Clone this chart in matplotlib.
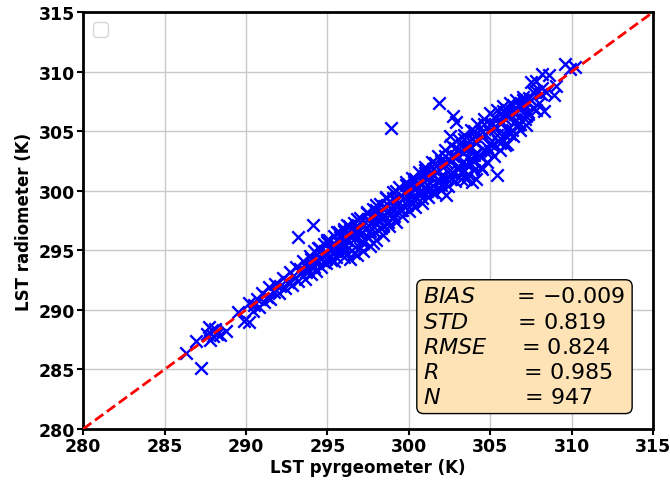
import matplotlib
matplotlib.use("Agg")
import matplotlib.pyplot as plt
import numpy as np

# Axis ranges and ticks
axis_lims = [280, 315]
ticks = [280, 285, 290, 295, 300, 305, 310, 315]

# Cool end of the record (sparse, below 291 K)
low_x = [286.3, 286.96, 287.26, 287.6, 287.8, 287.9, 288.0, 288.1, 288.2, 287.7,
         288.4, 288.8, 289.5, 289.9, 290.2]
low_y = [286.4, 287.4, 285.1, 288.0, 287.5, 288.3, 287.8, 288.4, 288.0, 288.6,
         287.9, 288.25, 289.8, 289.1, 289.0]

# Main band of matched observations
band_x = [290.2, 290.4, 290.5, 290.7, 290.8, 291.0, 291.1, 291.3, 291.4, 291.5,
          291.7, 291.8, 292.0, 292.1, 292.3, 292.4, 292.6, 292.7, 292.8, 293.0,
          293.1, 293.2, 293.4, 293.5, 293.6, 293.8, 293.9, 294.0, 294.1, 294.2,
          294.3, 294.4, 294.5, 294.6, 294.7, 294.8, 294.9, 295.0, 295.1, 295.2,
          295.3, 295.4, 295.5, 295.6, 295.7, 295.8, 295.9, 296.0, 296.1, 296.2,
          296.3, 296.4, 296.5, 296.6, 296.7, 296.8, 296.9, 297.0, 297.1, 297.2,
          297.3, 297.4, 297.5, 297.6, 297.7, 297.8, 297.9, 298.0, 298.1, 298.2,
          298.3, 298.4, 298.5, 298.6, 298.7, 298.8, 298.9, 299.0, 299.1, 299.2,
          299.3, 299.4, 299.5, 299.6, 299.7, 299.8, 299.9, 300.0, 300.1, 300.2,
          300.3, 300.4, 300.5, 300.6, 300.7, 300.8, 300.9, 301.0, 301.1, 301.2,
          301.3, 301.4, 301.5, 301.6, 301.7, 301.8, 301.9, 302.0, 302.1, 302.2,
          302.3, 302.4, 302.5, 302.6, 302.7, 302.8, 302.9, 303.0, 303.1, 303.2,
          303.3, 303.4, 303.5, 303.6, 303.7, 303.8, 303.9, 304.0, 304.1, 304.2,
          304.3, 304.4, 304.5, 304.6, 304.7, 304.8, 304.9, 305.0, 305.1, 305.2,
          305.3, 305.4, 305.5, 305.6, 305.7, 305.8, 305.9, 306.0, 306.1, 306.2,
          306.3, 306.4, 306.5, 306.6, 306.7, 306.8, 306.9, 307.0, 307.1, 307.3,
          307.4, 307.6, 307.8, 308.0, 308.2]
band_y = [290.6, 289.9, 290.4, 290.9, 290.2, 291.4, 290.7, 291.1, 291.9, 290.9,
          291.5, 292.2, 291.4, 292.0, 292.7, 291.8, 292.3, 293.2, 292.1, 292.7,
          293.6, 292.4, 293.1, 294.1, 292.6, 293.4, 294.5, 293.0, 293.8, 294.9,
          293.3, 294.1, 295.2, 293.6, 294.5, 295.5, 293.9, 294.8, 295.9, 294.2,
          295.1, 296.2, 294.4, 295.4, 296.5, 294.8, 295.6, 296.8, 294.9, 295.9,
          297.0, 294.3, 296.2, 297.3, 295.3, 294.6, 296.5, 297.7, 295.8, 294.9,
          296.8, 298.1, 296.1, 295.4, 297.2, 298.5, 296.5, 295.9, 297.6, 298.9,
          296.9, 296.3, 298.0, 299.4, 297.4, 297.0, 298.5, 299.9, 297.9, 297.4,
          298.9, 300.3, 298.4, 297.9, 299.4, 300.7, 298.8, 298.3, 299.8, 301.1,
          299.2, 298.6, 300.3, 301.6, 299.6, 299.0, 300.7, 302.0, 300.0, 299.5,
          301.2, 302.4, 300.4, 299.8, 301.6, 302.9, 300.8, 300.1, 302.0, 303.4,
          301.1, 300.4, 302.5, 303.8, 301.5, 300.8, 302.8, 304.3, 301.9, 301.0,
          303.2, 304.7, 302.2, 301.4, 303.7, 305.1, 302.6, 301.7, 304.0, 305.6,
          303.0, 302.0, 304.5, 306.0, 303.3, 302.4, 305.0, 306.5, 303.8, 302.9,
          305.4, 306.8, 304.2, 303.4, 305.8, 307.1, 304.7, 303.9, 306.2, 307.4,
          305.1, 304.6, 306.6, 307.6, 305.5, 305.1, 306.9, 307.9, 306.0, 306.6,
          307.8, 306.9, 308.4, 307.4, 308.6]

# Core of the band, close to the 1:1 line
core_x = [293.3, 293.9, 294.5, 295.1, 295.7, 296.3, 296.9, 297.5, 298.1, 298.7,
          299.3, 299.9, 300.5, 301.1, 301.7, 302.3, 302.9, 303.5, 304.1, 304.7,
          305.3, 305.9, 306.5, 307.1,
          296.0, 297.0, 298.0, 299.0, 300.0, 301.0, 302.0, 303.0, 304.0, 305.0,
          306.0,
          295.0, 296.0, 297.0, 298.0, 299.0, 300.0, 301.0, 302.0, 303.0, 304.0,
          305.0, 306.0, 307.0]
core_y = [293.4, 293.8, 294.4, 295.2, 295.6, 296.3, 296.8, 297.6, 298.0, 298.8,
          299.2, 300.0, 300.4, 301.2, 301.6, 302.4, 302.8, 303.6, 304.1, 304.8,
          305.2, 306.0, 306.4, 307.2,
          295.3, 296.3, 297.2, 298.3, 299.3, 300.3, 301.2, 302.1, 303.0, 304.0,
          305.1,
          295.7, 296.6, 297.4, 298.4, 299.4, 300.5, 301.5, 302.5, 303.5, 304.6,
          305.6, 306.4, 307.2]

# Further observations filling the band
fill_x = [293.7, 294.0, 294.3, 294.6, 294.9, 295.2, 295.5, 295.8, 296.1, 296.4,
          296.7, 297.0, 297.3, 297.6, 297.9, 298.2, 298.5, 298.8, 299.1, 299.4,
          299.7, 300.0, 300.3, 300.6, 300.9, 301.2, 301.5, 301.8, 302.1, 302.4,
          302.7, 303.0, 303.3, 303.6, 303.9, 304.2, 304.5, 304.8, 305.1, 305.4,
          305.7, 306.0, 306.3, 306.6, 306.9, 307.2, 307.5, 307.8, 308.1,
          294.2, 294.8, 295.4, 296.0, 296.6, 297.2, 297.8, 298.4, 299.0, 299.6,
          300.2, 300.8, 301.4, 302.0, 302.6, 303.2, 303.8, 304.4, 305.0, 305.6,
          306.2, 306.8,
          294.4, 295.0, 295.6, 296.2, 296.8, 297.4, 298.0, 298.6, 299.2, 299.8,
          300.4, 301.0, 301.6, 302.2, 302.8, 303.4, 304.0, 304.6, 305.2, 305.8,
          306.4, 307.0, 307.6]
fill_y = [293.2, 294.3, 293.9, 295.0, 294.3, 295.4, 294.9, 296.1, 295.5, 296.7,
          296.0, 295.2, 297.4, 296.6, 297.9, 297.5, 298.7, 298.0, 299.3, 298.5,
          299.9, 299.6, 300.7, 299.9, 301.2, 300.5, 301.8, 300.9, 302.3, 301.6,
          302.9, 301.8, 303.6, 302.8, 304.3, 303.2, 304.9, 303.7, 305.6, 304.7,
          306.3, 305.2, 306.7, 305.9, 307.3, 306.3, 307.6, 306.8, 308.1,
          293.6, 294.0, 294.1, 294.4, 294.8, 295.6, 295.6, 297.0, 297.7, 298.4,
          298.9, 299.4, 299.9, 300.5, 301.0, 301.6, 302.2, 302.8, 303.3, 304.0,
          304.8, 305.6,
          295.2, 295.9, 296.5, 297.1, 297.6, 298.2, 298.8, 299.5, 300.0, 300.5,
          301.0, 301.7, 302.3, 302.9, 303.6, 304.3, 305.0, 305.6, 306.2, 306.7,
          307.2, 307.6, 308.3]

# Scattered departures and the warm end of the record
out_x = [293.2, 294.1, 298.9, 301.85, 302.7, 302.9, 302.5, 302.26, 303.5, 303.9,
         304.1, 304.5, 305.4, 305.9, 307.2, 307.3, 307.5, 307.8, 308.2, 308.6,
         309.0, 308.9, 308.3, 308.4, 309.6, 309.9, 310.2]
out_y = [296.1, 297.1, 305.25, 307.4, 306.3, 305.75, 304.6, 299.6, 301.0, 300.7,
         301.0, 301.8, 301.3, 303.8, 305.5, 306.4, 309.1, 309.2, 309.8, 309.7,
         308.8, 308.0, 306.7, 308.3, 310.6, 310.2, 310.4]

# Summary statistics
stat_names = ["BIAS", "STD", "RMSE", "R", "N"]
stat_values = ["\u22120.009", "0.819", "0.824", "0.985", "947"]
stat_pads = [6, 7, 5, 12, 12]

x_all = np.array(low_x + band_x + core_x + fill_x + out_x)
y_all = np.array(low_y + band_y + core_y + fill_y + out_y)

fig = plt.figure(figsize=(6.7, 4.81), dpi=100)
ax = fig.add_axes([0.124, 0.106, 0.851, 0.867])

ax.scatter(x_all, y_all, marker="x", s=80, c="blue", linewidths=1.7, zorder=3)
ax.plot(axis_lims, axis_lims, color="red", linestyle="--", linewidth=2, zorder=4)

ax.set_xlim(axis_lims)
ax.set_ylim(axis_lims)
ax.set_xticks(ticks)
ax.set_yticks(ticks)
ax.grid(True, color="#c8c8c8", linewidth=1, zorder=0)
ax.set_axisbelow(True)

for lbl in ax.get_xticklabels() + ax.get_yticklabels():
    lbl.set_fontweight("bold")
    lbl.set_fontsize(12.5)
ax.tick_params(axis="both", width=1.5, length=4, pad=2)
for sp in ax.spines.values():
    sp.set_linewidth(2)

ax.set_xlabel("LST pyrgeometer (K)", fontsize=12, fontweight="bold", labelpad=2)
ax.set_ylabel("LST radiometer (K)", fontsize=12, fontweight="bold", labelpad=4)

ax.legend(loc="upper left", prop={"size": 14})

lines = [rf"${n}$" + " " * p + "= " + v
         for n, p, v in zip(stat_names, stat_pads, stat_values)]
ax.text(0.597, 0.053, "\n".join(lines), transform=ax.transAxes,
        fontsize=16, ha="left", va="bottom", zorder=5, linespacing=1.32,
        bbox=dict(boxstyle="round,pad=0.3", facecolor="#fde3b6",
                  edgecolor="black", linewidth=1))

fig.savefig("out.png", dpi=100)
